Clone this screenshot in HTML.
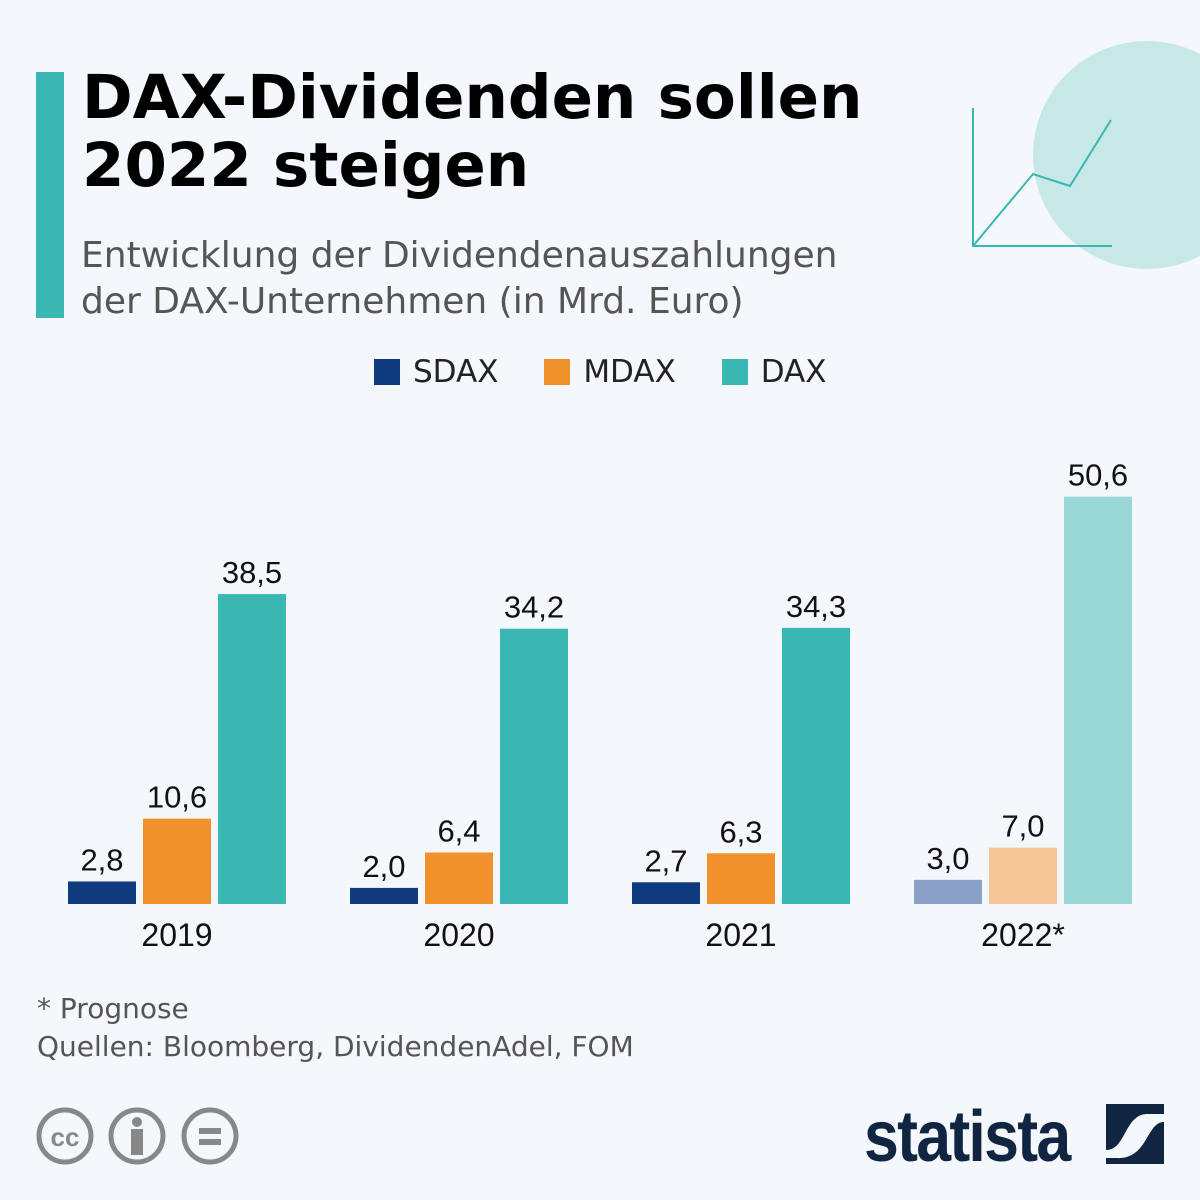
<!DOCTYPE html>
<html><head><meta charset="utf-8"><style>
body{margin:0;width:1200px;height:1200px;background:#f4f7fb;font-family:"DejaVu Sans",sans-serif;position:relative;overflow:hidden}
.abs{position:absolute}
</style></head><body>
<div class="abs" style="left:36px;top:72px;width:28px;height:246px;background:#38b7b3"></div>
<div class="abs" style="left:82px;top:64px;font-size:61px;font-weight:bold;line-height:68px;color:#000;white-space:nowrap">DAX-Dividenden sollen<br>2022 steigen</div>
<div class="abs" style="left:81px;top:233px;font-size:36px;line-height:46px;color:#555;white-space:nowrap">Entwicklung der Dividendenauszahlungen<br>der DAX-Unternehmen (in Mrd. Euro)</div>
<svg class="abs" style="left:960px;top:40px" width="240" height="240">
<circle cx="187" cy="115" r="114" fill="#c8e8e8"/>
<polyline points="13,68 13,206 152,206" fill="none" stroke="#38b7b3" stroke-width="2"/>
<polyline points="13,206 73,134 110,146 151,80" fill="none" stroke="#38b7b3" stroke-width="2"/>
</svg>
<div class="abs" style="left:374px;top:352px;font-size:31px;color:#222;line-height:40px;white-space:nowrap">
<span><span style="display:inline-block;width:26px;height:26px;background:#0f3a7d;vertical-align:-3px;margin-right:13px"></span>SDAX</span>
<span style="margin-left:36px"><span style="display:inline-block;width:26px;height:26px;background:#f0912c;vertical-align:-3px;margin-right:13px"></span>MDAX</span>
<span style="margin-left:36px"><span style="display:inline-block;width:26px;height:26px;background:#38b7b3;vertical-align:-3px;margin-right:13px"></span>DAX</span>
</div>
<svg id="chart" class="abs" style="left:0;top:0" width="1200" height="1000"></svg>
<div class="abs" style="left:37px;top:990px;font-size:28px;color:#555;line-height:38px;white-space:nowrap">* Prognose<br>Quellen: Bloomberg, DividendenAdel, FOM</div>
<svg class="abs" style="left:34px;top:1104px" width="210" height="64">
<g fill="none" stroke="#888" stroke-width="5"><circle cx="31" cy="32" r="26"/><circle cx="103" cy="32" r="26"/><circle cx="176" cy="32" r="26"/></g>
<text x="31" y="42" font-size="26" font-weight="bold" fill="#888" text-anchor="middle" font-family="Liberation Sans">cc</text>
<circle cx="103" cy="18" r="5" fill="#888"/><rect x="97" y="25" width="12" height="26" fill="#888"/>
<rect x="165" y="24" width="22" height="6" fill="#888"/><rect x="165" y="35" width="22" height="6" fill="#888"/>
</svg>
<div class="abs" style="left:864px;top:1096px;font-size:72px;font-weight:bold;color:#0f2541;letter-spacing:-2px;transform:scaleX(0.87);transform-origin:left;font-family:'Liberation Sans',sans-serif">statista</div>
<svg class="abs" style="left:1106px;top:1104px" width="58" height="60">
<rect width="58" height="60" fill="#0f2541"/>
<path d="M0,46 C20,46 18,12 40,10 L58,10 L58,18 C40,18 42,56 10,54 L0,54Z" fill="#f4f7fb"/>
</svg>
<script>
const categories=["2019","2020","2021","2022*"];
const sdax=[2.8,2.0,2.7,3.0];
const mdax=[10.6,6.4,6.3,7.0];
const dax=[38.5,34.2,34.3,50.6];
const labels=[["2,8","10,6","38,5"],["2,0","6,4","34,2"],["2,7","6,3","34,3"],["3,0","7,0","50,6"]];
const svg=document.getElementById('chart');
const NS="http://www.w3.org/2000/svg";
const base=904,scale=8.05,x0=68,groupW=282,barW=68,gap=7;
const y=v=>base-v*scale;
const colors=[["#0f3a7d","#f0912c","#38b7b3"],["#0f3a7d","#f0912c","#38b7b3"],["#0f3a7d","#f0912c","#38b7b3"],["#8aa0c4","#f4c596","#9ad8d8"]];
const series=[sdax,mdax,dax];const names=["sdax","mdax","dax"];
categories.forEach((c,i)=>{
  series.forEach((s,j)=>{
    const x=x0+i*groupW+j*(barW+gap);
    const r=document.createElementNS(NS,'rect');
    r.setAttribute('x',x);r.setAttribute('y',y(s[i]));r.setAttribute('width',barW);r.setAttribute('height',base-y(s[i]));
    r.setAttribute('fill',colors[i][j]);
    
    
    svg.appendChild(r);
    const t=document.createElementNS(NS,'text');
    t.setAttribute('x',x+barW/2);t.setAttribute('y',y(s[i])-11);
    t.setAttribute('text-anchor','middle');t.setAttribute('font-size','31');t.setAttribute('fill','#111');
    t.setAttribute('font-family','Liberation Sans');
    t.textContent=labels[i][j];
    
    
    svg.appendChild(t);
  });
  const t=document.createElementNS(NS,'text');
  t.setAttribute('x',x0+i*groupW+(3*barW+2*gap)/2);t.setAttribute('y',946);
  t.setAttribute('text-anchor','middle');t.setAttribute('font-size','32');t.setAttribute('fill','#111');
  t.setAttribute('font-family','Liberation Sans');
  t.textContent=c;
  
  
  svg.appendChild(t);
});
</script>
</body></html>
